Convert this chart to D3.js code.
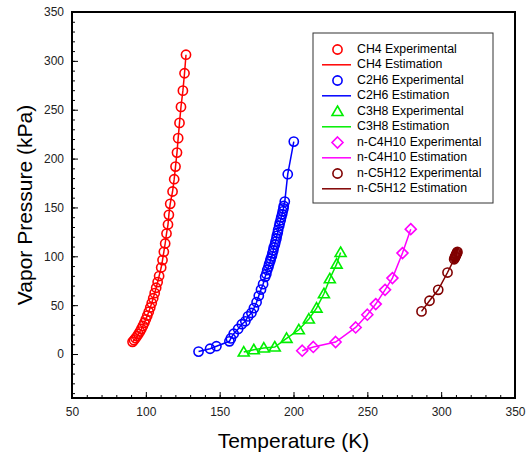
<!DOCTYPE html>
<html>
<head>
<meta charset="utf-8">
<script src="https://cdn.jsdelivr.net/npm/d3@7"></script>
<style>
  body { margin: 0; background: #fff; }
  text { font-family: "Liberation Sans", Arial, sans-serif; }
</style>
</head>
<body>
<div id="chart"></div>
<script>
// Data (T in K, P in kPa)
const ch4T = [91, 92, 93, 94, 95, 96, 97, 98, 99, 100, 101, 102, 103, 104, 105, 106, 107, 108, 109, 110.4,
  111.3, 112.2, 113.1, 114.0, 115.0, 115.6, 116.5, 118.1, 119.2, 120.1, 121.1, 121.9, 122.8, 123.8, 125.1, 126.2, 127.2];
const ch4P = [12.5, 14.2, 16.1, 18.2, 20.5, 23, 25.8, 28.8, 32, 35.5, 39.3, 43.3, 47.6, 52.2, 57.1, 62.3, 67.8, 73.6, 79.8, 88.5,
  96.1, 104.6, 113.1, 123.3, 132.5, 142.4, 153.7, 166.3, 178.9, 191.8, 206.1, 220.9, 236.5, 252.9, 269.5, 287.3, 306.3];

const c2h6T = [135.7, 143.5, 147.8, 156.6, 157.6, 159.5, 162.5, 165, 167.4, 169.2, 171.5, 173.2, 175, 176.5, 178, 179.4, 180.8,
  181.6, 182.2, 183, 183.5, 184.2, 184.6, 185.3, 185.7, 186.3, 186.6, 187.4, 187.8, 188.4, 188.7, 189.3, 189.6, 190.3, 190.7,
  191.3, 191.7, 192.3, 192.7, 193.2, 193.4, 194.1, 196.1, 200.2];
const c2h6P = [2.5, 5.4, 8, 13, 16, 20.8, 25.6, 30.5, 33.5, 38.5, 42, 47, 53, 59.6, 66, 71.5, 79, 82, 86, 89, 92, 95, 97.5, 100,
  103, 106, 109, 112, 115, 118, 121, 124, 127, 131, 134, 137, 140, 143, 146, 149, 151.5, 156, 184, 217.4];

const c3h8T = [166.3, 173.1, 179.9, 187.3, 195.3, 203.6, 210.4, 215.6, 220.6, 224.6, 229.2, 231.9];
const c3h8P = [2, 4.4, 6.1, 7.2, 16, 24.8, 35.8, 47, 61.7, 77, 92, 103.9];

const c4h10T = [205.9, 213.4, 228.5, 242.1, 250, 255.7, 262, 267, 273.8, 279.4];
const c4h10P = [3.4, 7.2, 12.3, 27.2, 40.2, 51.1, 65.7, 77.7, 103.3, 127.8];

const c5h12T = [286.7, 292.1, 298, 304.3, 308.8, 309.2, 309.5, 309.8, 310.1, 310.4, 310.7, 311];
const c5h12P = [43.6, 54.5, 65.7, 83.4, 97, 98.5, 99.5, 100.5, 101.5, 102.5, 103.5, 104.5];

const seriesNames = ["CH4", "C2H6", "C3H8", "n-C4H10", "n-C5H12"];
const seriesColors = ["#ff0000", "#0000ff", "#00ee00", "#ff00ff", "#800000"];
const seriesSymbols = ["circle", "circle", "triangle", "diamond", "circle"];
const seriesT = [ch4T, c2h6T, c3h8T, c4h10T, c5h12T];
const seriesP = [ch4P, c2h6P, c3h8P, c4h10P, c5h12P];

const xTicks = [50, 100, 150, 200, 250, 300, 350];
const yTicks = [0, 50, 100, 150, 200, 250, 300, 350];

let width = 529, height = 455;
let margin = {top: 12, bottom: 57, left: 72, right: 14};

let svg = d3.select('#chart')
  .append('svg')
  .attr('width', width)
  .attr('height', height);

let x = d3.scaleLinear()
  .domain([50, 350])
  .range([margin.left, width - margin.right]);

let y = d3.scaleLinear()
  .domain([-45, 350])
  .range([height - margin.bottom, margin.top]);

// minor ticks
svg.append('g')
  .attr('transform', `translate(0, ${height - margin.bottom})`)
  .call(d3.axisBottom(x).tickValues(d3.range(50, 351, 10)).tickSize(-3).tickFormat(''))
  .call(g => g.select('.domain').remove());
svg.append('g')
  .attr('transform', `translate(${margin.left}, 0)`)
  .call(d3.axisLeft(y).tickValues(d3.range(-40, 351, 10)).tickSize(-3).tickFormat(''))
  .call(g => g.select('.domain').remove());

// major ticks
let xAxis = svg.append('g')
  .attr('transform', `translate(0, ${height - margin.bottom})`)
  .call(d3.axisBottom(x).tickValues(xTicks).tickSize(-6).tickPadding(9))
  .call(g => g.select('.domain').remove());
let yAxis = svg.append('g')
  .attr('transform', `translate(${margin.left}, 0)`)
  .call(d3.axisLeft(y).tickValues(yTicks).tickSize(-6).tickPadding(8))
  .call(g => g.select('.domain').remove());

svg.selectAll('.tick text')
  .style('font-size', '12px')
  .attr('fill', '#222');
svg.selectAll('.tick line')
  .attr('stroke', '#000')
  .attr('stroke-width', 1);

// frame
svg.append('rect')
  .attr('x', margin.left)
  .attr('y', margin.top)
  .attr('width', width - margin.left - margin.right)
  .attr('height', height - margin.top - margin.bottom)
  .attr('fill', 'none')
  .attr('stroke', '#000')
  .attr('stroke-width', 2);

// axis labels
svg.append('text')
  .attr('x', (margin.left + width - margin.right) / 2)
  .attr('y', 448)
  .text('Temperature (K)')
  .style('text-anchor', 'middle')
  .style('font-size', '21px');

svg.append('text')
  .attr('x', 0 - (margin.top + height - margin.bottom) / 2)
  .attr('y', 32)
  .text('Vapor Pressure (kPa)')
  .attr('transform', 'rotate(-90)')
  .style('text-anchor', 'middle')
  .style('font-size', '21px');

function symbolPath(kind) {
  if (kind === 'triangle') return 'M0,-5.5L5.5,4L-5.5,4Z';
  if (kind === 'diamond') return 'M0,-5.5L5.5,0L0,5.5L-5.5,0Z';
  return null;
}

function drawMarker(g, kind, color, cx, cy) {
  if (kind === 'circle') {
    g.append('circle')
      .attr('cx', cx).attr('cy', cy).attr('r', 4.6)
      .attr('fill', 'none').attr('stroke', color).attr('stroke-width', 1.6);
  } else {
    g.append('path')
      .attr('d', symbolPath(kind))
      .attr('transform', `translate(${cx},${cy})`)
      .attr('fill', 'none').attr('stroke', color).attr('stroke-width', 1.6);
  }
}

let line = d3.line()
  .x(d => x(d[0]))
  .y(d => y(d[1]));

seriesNames.forEach((name, i) => {
  const pts = seriesT[i].map((t, j) => [t, seriesP[i][j]]);
  // estimation curve
  svg.append('path')
    .datum(pts)
    .attr('d', line)
    .attr('stroke', seriesColors[i])
    .attr('stroke-width', 1.5)
    .attr('fill', 'none');
  // experimental points
  const g = svg.append('g');
  pts.forEach(p => drawMarker(g, seriesSymbols[i], seriesColors[i], x(p[0]), y(p[1])));
});

// legend
const legend = svg.append('g');
legend.append('rect')
  .attr('x', 313)
  .attr('y', 33)
  .attr('width', 180)
  .attr('height', 170)
  .attr('fill', '#fff')
  .attr('stroke', '#333')
  .attr('stroke-width', 1);

seriesNames.forEach((name, i) => {
  const y1 = 49.5 + i * 31;
  const y2 = y1 + 15.3;
  drawMarker(legend, seriesSymbols[i], seriesColors[i], 337.5, y1);
  legend.append('text')
    .attr('x', 357).attr('y', y1)
    .attr('dominant-baseline', 'middle')
    .style('font-size', '12.3px')
    .text(name + ' Experimental');
  legend.append('line')
    .attr('x1', 322).attr('x2', 351)
    .attr('y1', y2).attr('y2', y2)
    .attr('stroke', seriesColors[i])
    .attr('stroke-width', 1.5);
  legend.append('text')
    .attr('x', 357).attr('y', y2)
    .attr('dominant-baseline', 'middle')
    .style('font-size', '12.3px')
    .text(name + ' Estimation');
});
</script>
</body>
</html>
